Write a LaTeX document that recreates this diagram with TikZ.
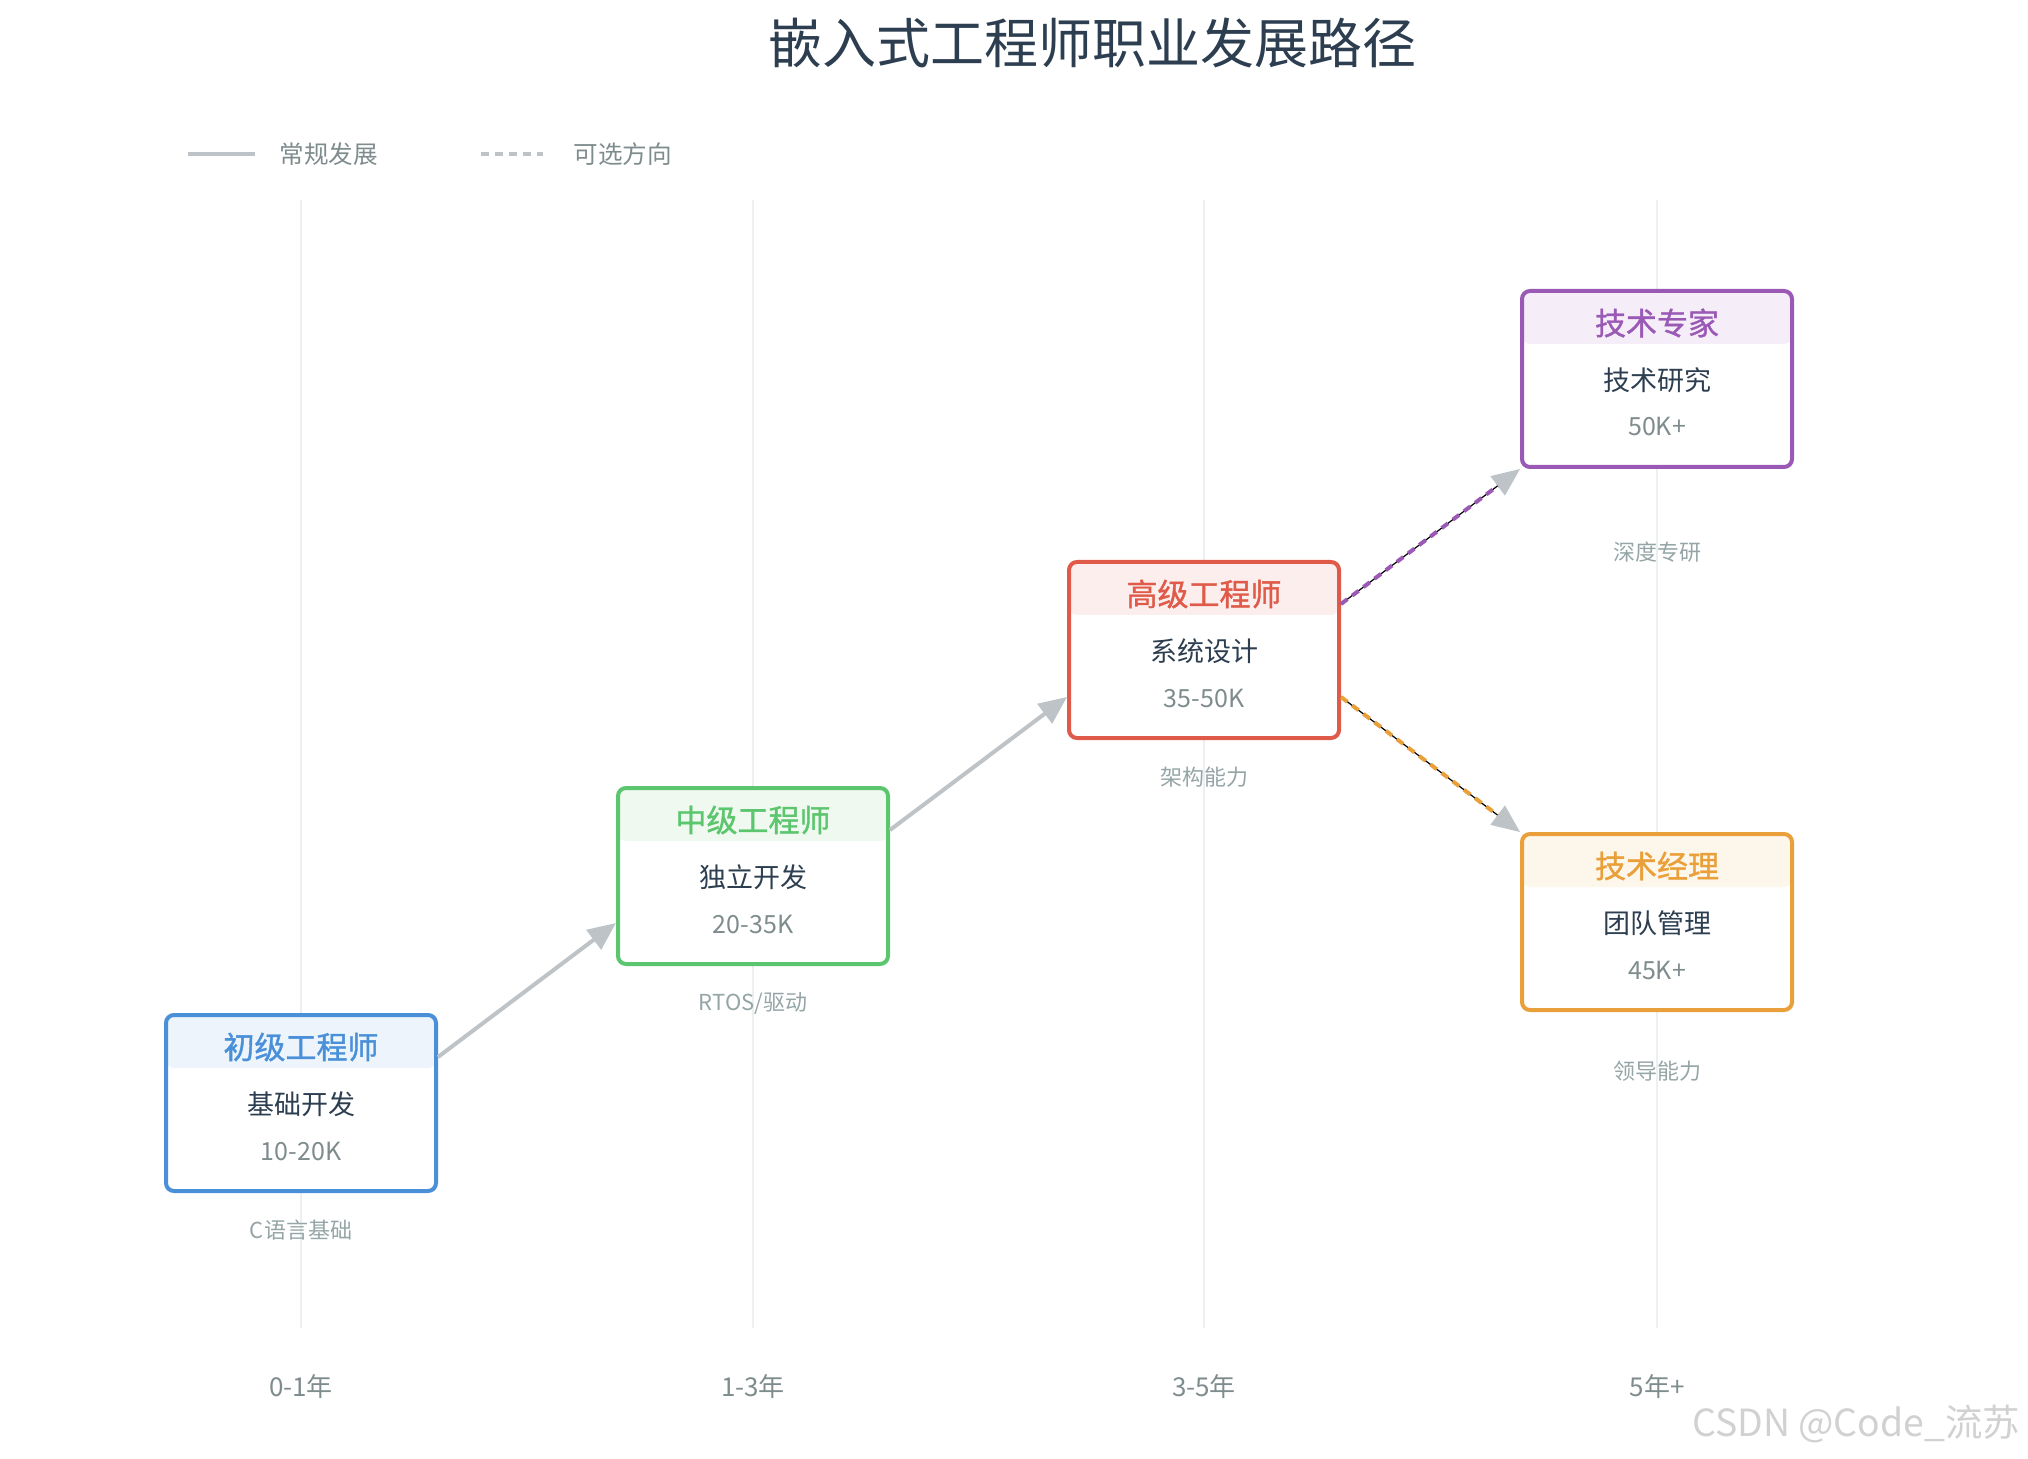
\documentclass[tikz,border=0pt]{standalone}
\usepackage{fontspec}
\setmainfont{Noto Sans CJK SC}
\newfontfamily\hdfont[FakeBold=1.2]{Noto Sans CJK SC}
\usetikzlibrary{arrows.meta,calc}

\definecolor{jrBlue}{HTML}{4A90D9}
\definecolor{midGreen}{HTML}{5CC66E}
\definecolor{srRed}{HTML}{DF5A49}
\definecolor{expPurple}{HTML}{9B59B6}
\definecolor{mgrOrange}{HTML}{EAA03A}
\definecolor{txtDark}{HTML}{2C3E50}
\definecolor{txtGray}{HTML}{7F8C8D}
\definecolor{txtLight}{HTML}{95A5A6}
\definecolor{lineGray}{HTML}{BDC3C7}
\definecolor{gridGray}{HTML}{ECF0F1}

\tikzset{
  box/.style={draw=#1, line width=2pt, rounded corners=4pt, fill=white,
    minimum width=135pt, minimum height=88pt,
    path picture={\fill[#1!10] (path picture bounding box.north west)
      rectangle ($(path picture bounding box.north east)+(0,53)$);}},
  hd/.style={font=\hdfont\fontsize{15.5pt}{18pt}\selectfont, text=#1},
  role/.style={font=\fontsize{13.5pt}{16pt}\selectfont, text=txtDark},
  pay/.style={font=\fontsize{12.5pt}{15pt}\selectfont, text=txtGray},
  note/.style={font=\fontsize{11pt}{13pt}\selectfont, text=txtLight},
  mainline/.style={draw=lineGray, line width=2pt},
  mainarrow/.style={mainline, -{Triangle[length=14pt,width=12pt]}},
  optarrow/.style={draw=black, line width=0.6pt,
    -{Triangle[length=14pt,width=12pt,color=lineGray]}},
  optdash/.style={draw=#1, line width=2pt, dash pattern=on 4pt off 3pt, shorten >=14pt},
}

\begin{document}
\begin{tikzpicture}[x=0.5pt, y=-0.5pt, every node/.style={inner sep=0pt}]
\useasboundingbox (0,0) rectangle (2028,1459);

% title
\node[font=\fontsize{27pt}{32pt}\selectfont, text=txtDark] (title) at (1092,43) {嵌入式工程师职业发展路径};

% legend
\draw[mainline] (188,154) -- (255,154);
\node[font=\fontsize{12.3pt}{15pt}\selectfont, text=txtGray, anchor=west] (lgA) at (279,154) {常规发展};
\draw[mainline, dash pattern=on 4pt off 3pt] (481,154) -- (543,154);
\node[font=\fontsize{12.3pt}{15pt}\selectfont, text=txtGray, anchor=west] (lgB) at (573,154) {可选方向};

% time axis
\foreach \x/\yr in {301/0-1年, 753/1-3年, 1204/3-5年, 1657/5年+} {
  \draw[gridGray, line width=1pt] (\x,200) -- (\x,1328);
  \node[font=\fontsize{13pt}{16pt}\selectfont, text=txtGray] (yr\x) at (\x,1387) {\yr};
}

% stages
\node[box=jrBlue] (jr) at (301,1103) {};
\node[hd=jrBlue] (jrT) at ($(jr)+(0,-56)$) {初级工程师};
\node[role] (jrR) at ($(jr)+(0,1)$) {基础开发};
\node[pay] (jrP) at ($(jr)+(0,48)$) {10-20K};
\node[note] (jrN) at ($(jr)+(0,127)$) {C语言基础};

\node[box=midGreen] (mid) at (753,876) {};
\node[hd=midGreen] (midT) at ($(mid)+(0,-56)$) {中级工程师};
\node[role] (midR) at ($(mid)+(0,1)$) {独立开发};
\node[pay] (midP) at ($(mid)+(0,48)$) {20-35K};
\node[note] (midN) at ($(mid)+(0,127)$) {RTOS/驱动};

\node[box=srRed] (sr) at (1204,650) {};
\node[hd=srRed] (srT) at ($(sr)+(0,-56)$) {高级工程师};
\node[role] (srR) at ($(sr)+(0,1)$) {系统设计};
\node[pay] (srP) at ($(sr)+(0,48)$) {35-50K};
\node[note] (srN) at ($(sr)+(0,127)$) {架构能力};

\node[box=expPurple] (exp) at (1657,379) {};
\node[hd=expPurple] (expT) at ($(exp)+(0,-56)$) {技术专家};
\node[role] (expR) at ($(exp)+(0,1)$) {技术研究};
\node[pay] (expP) at ($(exp)+(0,48)$) {50K+};
\node[note] (expN) at ($(exp)+(0,173)$) {深度专研};

\node[box=mgrOrange] (mgr) at (1657,922) {};
\node[hd=mgrOrange] (mgrT) at ($(mgr)+(0,-56)$) {技术经理};
\node[role] (mgrR) at ($(mgr)+(0,1)$) {团队管理};
\node[pay] (mgrP) at ($(mgr)+(0,48)$) {45K+};
\node[note] (mgrN) at ($(mgr)+(0,149)$) {领导能力};

% regular path
\draw[mainarrow] ($(jr.east)+(0,-46)$) -- ($(mid.west)+(0,47)$);
\draw[mainarrow] ($(mid.east)+(0,-46)$) -- ($(sr.west)+(0,47)$);

% optional paths
\draw[optarrow] ($(sr.east)+(0,-46)$) -- (exp.south west);
\draw[optdash=expPurple] ($(sr.east)+(0,-46)$) -- (exp.south west);
\draw[optarrow] ($(sr.east)+(0,47)$) -- (mgr.north west);
\draw[optdash=mgrOrange] ($(sr.east)+(0,47)$) -- (mgr.north west);

\node[font=\fontsize{18.7pt}{22pt}\selectfont, text=black!18] (mark) at (1856,1424) {CSDN @Code\_流苏};
\end{tikzpicture}
\end{document}
